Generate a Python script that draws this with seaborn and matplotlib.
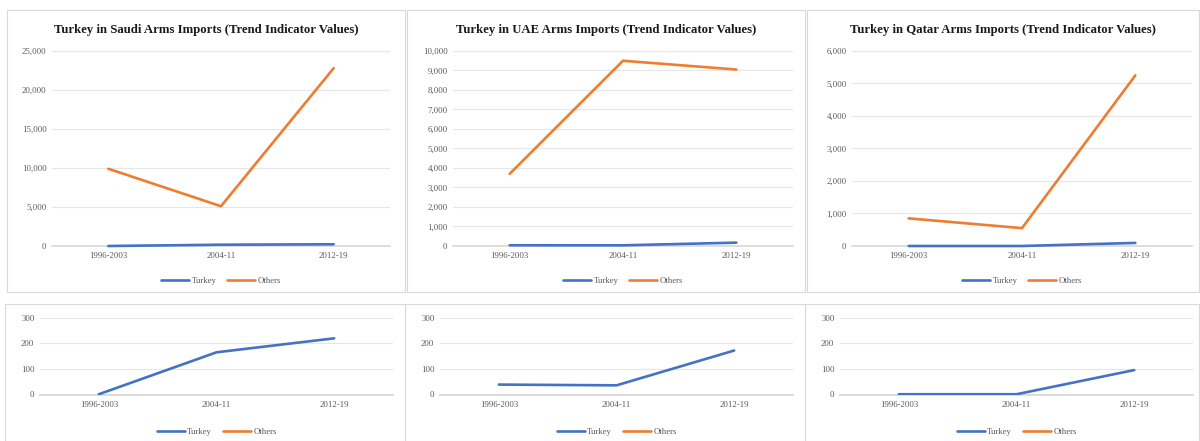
import pandas as pd
import matplotlib.pyplot as plt
import seaborn as sns
from matplotlib.patches import Rectangle
from matplotlib.ticker import FuncFormatter

sns.set_theme(style="white")
plt.rcParams['font.family'] = ['Liberation Serif', 'DejaVu Serif']

# data (SIPRI TIV)
periods = ["1996-2003", "2004-11", "2012-19"]
series = ["Turkey", "Others"]
saudi_turkey = [0, 165, 220]
saudi_others = [9900, 5100, 22800]
uae_turkey = [38, 35, 172]
uae_others = [3700, 9500, 9050]
qatar_turkey = [0, 0, 95]
qatar_others = [850, 550, 5250]
titles = ["Turkey in Saudi Arms Imports (Trend Indicator Values)",
          "Turkey in UAE Arms Imports (Trend Indicator Values)",
          "Turkey in Qatar Arms Imports (Trend Indicator Values)"]
top_ylims = [(25000, 5000), (10000, 1000), (6000, 1000)]

blue = "#4472C4"
orange = "#ED7D31"
W, H = 1200, 441


def make_df(turkey, others):
    return pd.DataFrame({
        "period": periods * 2,
        "value": turkey + others,
        "series": ["Turkey"] * 3 + ["Others"] * 3,
    })


frames = [make_df(saudi_turkey, saudi_others),
          make_df(uae_turkey, uae_others),
          make_df(qatar_turkey, qatar_others)]

fig = plt.figure(figsize=(W / 100, H / 100), dpi=100)


def px_axes(x0, y0, x1, y1):
    return fig.add_axes([x0 / W, 1 - y1 / H, (x1 - x0) / W, (y1 - y0) / H])


def border(x0, y0, x1, y1):
    fig.patches.append(Rectangle((x0 / W, 1 - y1 / H), (x1 - x0) / W, (y1 - y0) / H,
                                 transform=fig.transFigure, fill=False,
                                 edgecolor="#d9d9d9", linewidth=0.8))


def style_axes(ax, ymax, step, legend_y):
    ax.set_ylim(0, ymax)
    ax.set_yticks(range(0, ymax + 1, step))
    ax.yaxis.set_major_formatter(FuncFormatter(lambda v, p: f"{int(v):,}"))
    ax.set_xlim(-0.5, 2.5)
    ax.grid(axis="y", color="#e6e6e6", linewidth=0.8)
    ax.set_axisbelow(True)
    for s in ["top", "right", "left"]:
        ax.spines[s].set_visible(False)
    ax.spines["bottom"].set_color("#d9d9d9")
    ax.tick_params(axis="both", length=0, labelsize=6.3, labelcolor="#595959", pad=4)
    ax.set_xlabel("")
    ax.set_ylabel("")
    for ln in ax.lines:
        ln.set_zorder(3)
    ax.legend(loc="upper center", bbox_to_anchor=(0.5, legend_y),
              ncol=2, frameon=False, fontsize=6.3, handlelength=3.2, columnspacing=1.2,
              handletextpad=0.3, labelcolor="#595959")
    # keep lines lying on the zero axis fully visible
    if ymax > 300:
        for ln in ax.lines:
            ln.set_clip_on(False)


panel_x = [(7, 405), (407, 805), (807, 1199)]
top_plot_x = [(52, 390), (453, 793), (852, 1192)]
bot_plot_x = [(40, 393), (440, 793), (840, 1193)]

for i in range(3):
    bx0, bx1 = panel_x[i]
    border(bx0, 10, bx1, 292)
    border(bx0 - 2, 304, bx1, 441)

    # top: both series
    ax = px_axes(top_plot_x[i][0], 51, top_plot_x[i][1], 246)
    sns.lineplot(data=frames[i], x="period", y="value", hue="series", hue_order=series,
                 palette=[blue, orange], linewidth=1.9, ax=ax, sort=False)
    style_axes(ax, *top_ylims[i], legend_y=-0.12)
    fig.text((bx0 + bx1) / 2 / W, 1 - 30 / H, titles[i], ha="center", va="center",
             fontsize=9.2, fontweight="bold", color="#1a1a1a")

    # bottom: same chart zoomed to 0-300, Others runs off the top and is clipped
    ax2 = px_axes(bot_plot_x[i][0], 318, bot_plot_x[i][1], 395)
    sns.lineplot(data=frames[i], x="period", y="value", hue="series", hue_order=series,
                 palette=[blue, orange], linewidth=1.9, ax=ax2, sort=False)
    style_axes(ax2, 300, 100, legend_y=-0.33)
    ax2.set_ylim(-3, 300)

fig.savefig("out.png", dpi=100, facecolor="white")
